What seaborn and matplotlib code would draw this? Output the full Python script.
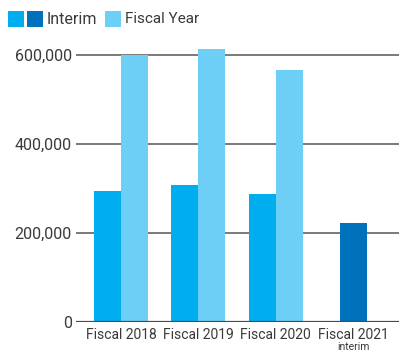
import matplotlib
matplotlib.use("Agg")
import matplotlib.pyplot as plt
from matplotlib.patches import Rectangle
from matplotlib.ticker import FuncFormatter
import seaborn as sns
import pandas as pd

categories = ["Fiscal 2018", "Fiscal 2019", "Fiscal 2020", "Fiscal 2021"]
interim = [294000, 308000, 288000]
fiscal_year = [600000, 613000, 566000]
interim_2021 = [222000]
yticks = [0, 200000, 400000, 600000]

c_interim = "#00AEEF"
c_fy = "#6DCFF6"
c_dark = "#0072BC"
txt = "#3a3a3a"

sns.set_style("white")
plt.rcParams["font.family"] = ["Roboto", "DejaVu Sans"]

df = pd.DataFrame({
    "year": categories[:3] * 2,
    "series": ["Interim"] * 3 + ["Fiscal Year"] * 3,
    "value": interim + fiscal_year,
})
df21 = pd.DataFrame({"year": categories[3:], "value": interim_2021})

fig = plt.figure(figsize=(3.99, 3.54), dpi=100)
ax = fig.add_axes([76 / 399, 32 / 354, 323 / 399, 280 / 354])

sns.barplot(data=df, x="year", y="value", hue="series", order=categories,
            hue_order=["Interim", "Fiscal Year"],
            palette={"Interim": c_interim, "Fiscal Year": c_fy},
            saturation=1, width=0.7, linewidth=0, legend=False, ax=ax, zorder=3)
sns.barplot(data=df21, x="year", y="value", order=categories, color=c_dark,
            saturation=1, width=0.35, linewidth=0, ax=ax, zorder=3)

ax.set_xlim(-0.58, 3.59)
ax.set_ylim(0, 629000)
ax.set_yticks(yticks)
ax.yaxis.set_major_formatter(FuncFormatter(lambda v, p: f"{int(v):,}"))
for s in ax.spines.values():
    s.set_visible(False)
ax.yaxis.grid(True, color="#707070", linewidth=1.3)
ax.set_axisbelow(True)
ax.axhline(0, color="#4a4a4a", linewidth=1.6, zorder=4)
ax.tick_params(axis="y", length=0, pad=3, labelsize=11.5, labelcolor=txt)
ax.tick_params(axis="x", length=0, pad=4, labelsize=10, labelcolor=txt)
ax.set_xlabel("")
ax.set_ylabel("")
ax.text(3, -0.073, "interim", transform=ax.get_xaxis_transform(),
        ha="center", va="top", fontsize=7.5, color=txt)

# legend
def sq(x, color):
    fig.add_artist(Rectangle((x / 399, 1 - 27 / 354), 16 / 399, 16 / 354,
                             transform=fig.transFigure, color=color, lw=0))
sq(8, c_interim)
sq(27, c_dark)
fig.text(47 / 399, 1 - 19 / 354, "Interim", ha="left", va="center",
         fontsize=11.5, color=txt)
sq(105, c_fy)
fig.text(125 / 399, 1 - 19 / 354, "Fiscal Year", ha="left", va="center",
         fontsize=11, color=txt)

fig.savefig("out.png", dpi=100)
